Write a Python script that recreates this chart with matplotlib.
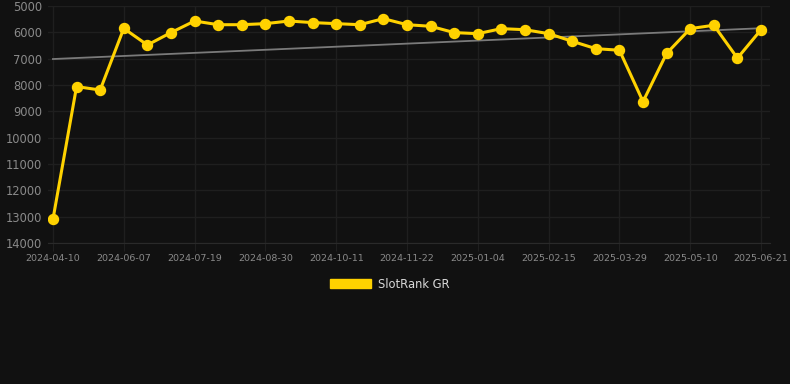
import numpy as np
import matplotlib.pyplot as plt
from matplotlib.patches import Patch

# rank values per sample (lower number = better rank, axis inverted)
rank_values = [13100, 8060, 8190, 5850, 6480, 6010, 5570, 5710, 5710, 5670,
               5570, 5630, 5670, 5710, 5480, 5710, 5770, 6010, 6050, 5860,
               5900, 6050, 6340, 6620, 6680, 8630, 6800, 5860, 5730, 6980,
               5900]
tick_labels = ['2024-04-10', '2024-06-07', '2024-07-19', '2024-08-30',
               '2024-10-11', '2024-11-22', '2025-01-04', '2025-02-15',
               '2025-03-29', '2025-05-10', '2025-06-21']
tick_every = 3
y_ticks = [5000, 6000, 7000, 8000, 9000, 10000, 11000, 12000, 13000, 14000]

bg_color = '#111111'
line_color = '#ffd200'
grid_color = '#1f1f1f'
text_color = '#8a8a8a'

x = np.arange(len(rank_values))
y = np.array(rank_values, dtype=float)

# linear trend through the series
slope, intercept = np.polyfit(x, y, 1)
trend = slope * x + intercept

fig = plt.figure(figsize=(7.9, 3.84), dpi=100, facecolor=bg_color)
ax = fig.add_axes([48 / 790, 1 - 243 / 384, (770 - 48) / 790, (243 - 6) / 384])
ax.set_facecolor(bg_color)

ax.plot(x, trend, color='#7a7a7a', linewidth=1.3, zorder=2)
ax.plot(x, y, color=line_color, linewidth=2.2, marker='o', markersize=7.2,
        markerfacecolor=line_color, markeredgecolor=line_color, zorder=3)

ax.set_ylim(14000, 5000)
ax.set_xlim(-0.21, 30.38)
ax.set_yticks(y_ticks)
ax.set_yticklabels([str(v) for v in y_ticks])
ax.set_xticks(x[::tick_every])
ax.set_xticklabels(tick_labels)

ax.grid(True, color=grid_color, linewidth=1)
ax.set_axisbelow(True)
for side in ['top', 'right', 'left']:
    ax.spines[side].set_visible(False)
ax.spines['bottom'].set_color('#2a2a2a')

ax.tick_params(axis='y', length=0, pad=4, labelsize=8.3, colors=text_color)
ax.tick_params(axis='x', length=6, color=grid_color, pad=2, labelsize=6.8,
               colors=text_color)

legend_handle = Patch(facecolor=line_color, edgecolor=line_color, label='SlotRank GR')
leg = fig.legend(handles=[legend_handle], loc='center', bbox_to_anchor=(0.493, 0.26),
                 frameon=False, fontsize=8.3, handlelength=3.6, handleheight=0.9,
                 handletextpad=0.55)
for t in leg.get_texts():
    t.set_color('#d8d8d8')

fig.savefig('out.png', dpi=100, facecolor=bg_color)
